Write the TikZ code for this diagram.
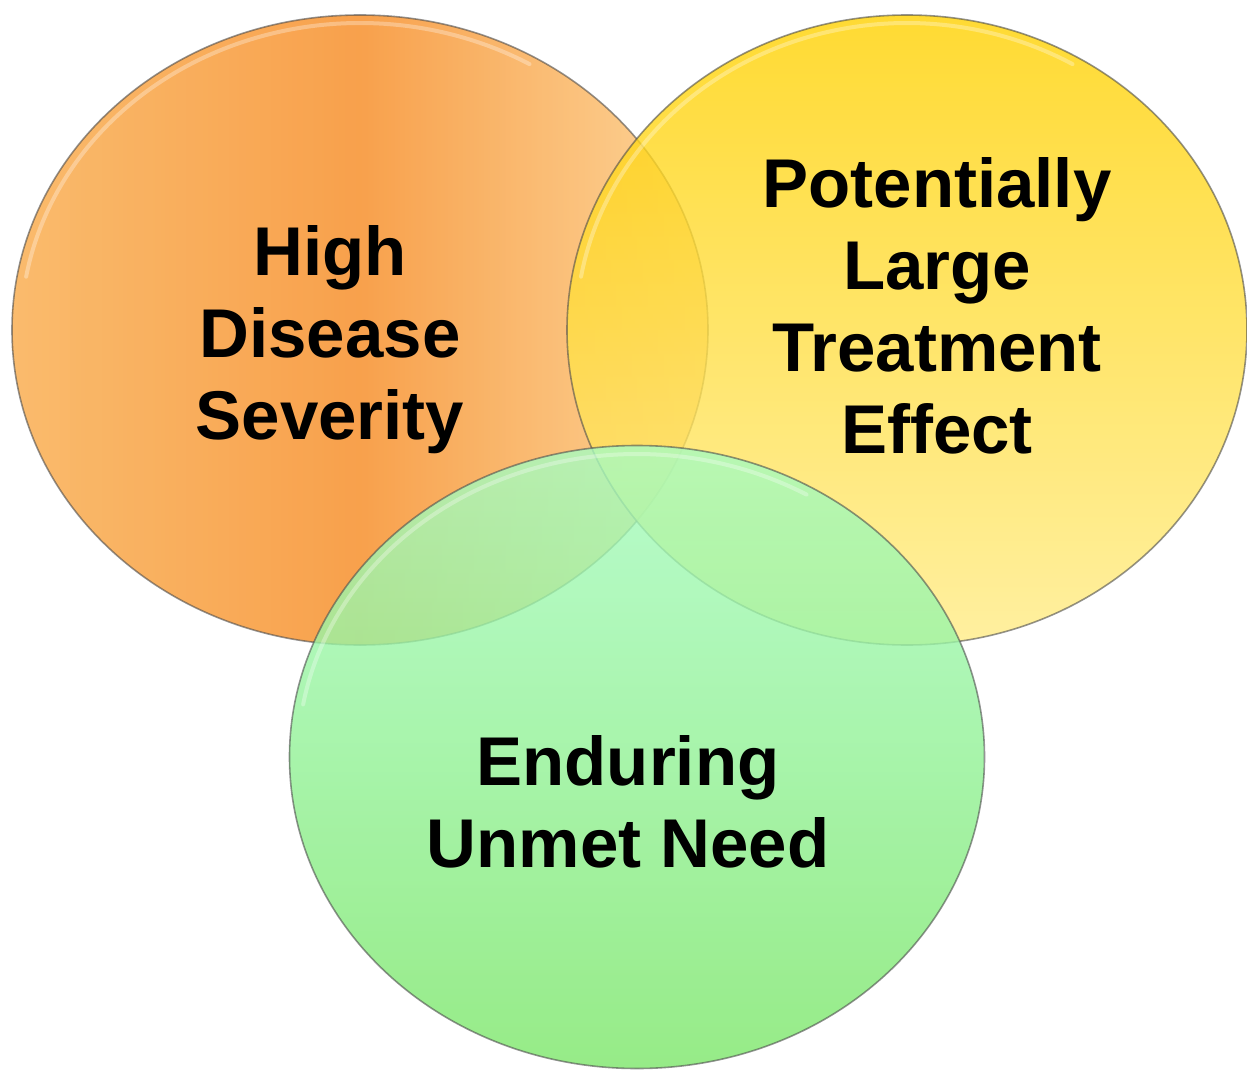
\documentclass[tikz,border=0pt]{standalone}
\usepackage{fontspec}
\setmainfont{Liberation Sans}
\usetikzlibrary{shapes.geometric}
\definecolor{orL}{HTML}{F9AA48}
\definecolor{orM}{HTML}{F6891F}
\definecolor{orR}{HTML}{FCCB80}
\definecolor{yeT}{HTML}{FFD100}
\definecolor{yeB}{HTML}{FFEC88}
\definecolor{grT}{HTML}{A7FCC1}
\definecolor{grB}{HTML}{7CE669}
\tikzset{
  bubble/.style={ellipse, inner sep=0pt, draw=black!70, draw opacity=0.6,
    line width=1.6pt, fill opacity=0.8},
  shine/.style={draw=white, draw opacity=0.3, line width=4pt, line cap=round},
  lab/.style={align=center, anchor=north, inner sep=0pt,
    font=\fontsize{69}{82}\selectfont\bfseries, text=black}
}
\begin{document}
\begin{tikzpicture}[x=1pt,y=-1pt]
\useasboundingbox (0,0) rectangle (1247,1070);
\node[bubble, minimum width=696pt, minimum height=630pt,
  left color=orL, right color=orR, middle color=orM] (sev) at (360,330) {};
\draw[shine] ([shift={(190:339 and 307)}]sev.center)
  arc[start angle=190, end angle=300, x radius=339, y radius=307];
\node[bubble, minimum width=680pt, minimum height=630pt,
  top color=yeT, bottom color=yeB] (eff) at (907,330) {};
\draw[shine] ([shift={(190:331 and 307)}]eff.center)
  arc[start angle=190, end angle=300, x radius=331, y radius=307];
\node[bubble, minimum width=695pt, minimum height=623pt,
  top color=grT, bottom color=grB] (need) at (637,757) {};
\draw[shine] ([shift={(190:339 and 303)}]need.center)
  arc[start angle=190, end angle=300, x radius=339, y radius=303];
\node[lab] (tsev) at (330,225) {High\\Disease\\Severity};
\node[lab] (teff) at (937,157) {Potentially\\Large\\Treatment\\Effect};
\node[lab] (tneed) at (628,735) {Enduring\\Unmet Need};
\end{tikzpicture}
\end{document}
